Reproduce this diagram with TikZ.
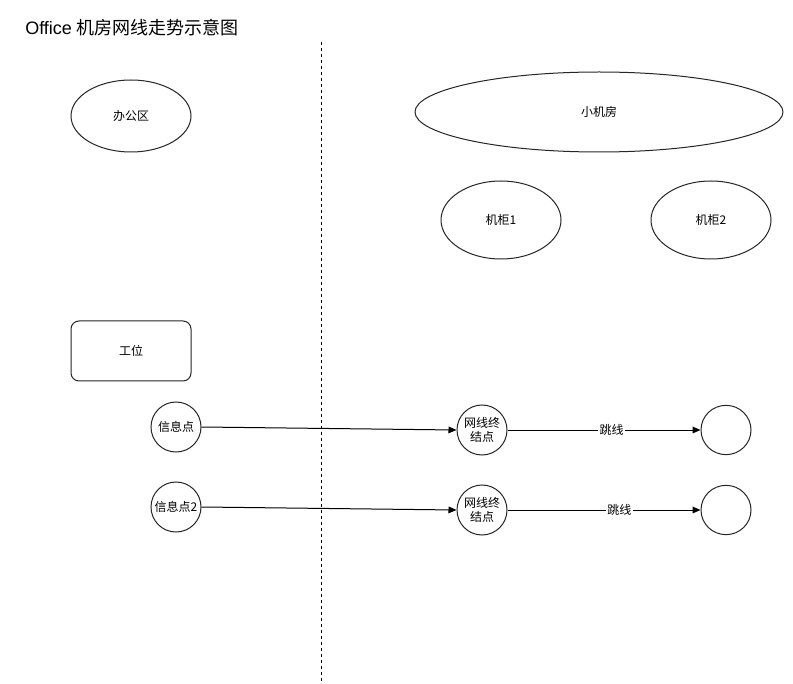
\documentclass[tikz,border=0pt]{standalone}
\usepackage{fontspec}
\setmainfont{Liberation Sans}
\newfontfamily\cjk{Noto Sans CJK SC}
\usetikzlibrary{arrows.meta,shapes.geometric}
\begin{document}
\begin{tikzpicture}[x=0.75pt,y=-0.75pt,
  shp/.style={draw=black!85,line width=0.75pt,font=\cjk\fontsize{9}{10}\selectfont,inner sep=0pt,align=center},
  circ/.style={shp,circle,minimum size=37.5pt},
  conn/.style={draw,line width=0.75pt,-{Triangle[length=6pt,width=5pt]}},
  lbl/.style={fill=white,font=\cjk\fontsize{9}{10}\selectfont,inner sep=1pt}]
\useasboundingbox[fill=white] (0,0) rectangle (793,684);
\node[anchor=west,inner sep=0pt,font=\fontsize{13.5}{15}\selectfont] (title) at (25,28) {Office {\cjk 机房网线走势示意图}};
\coordinate (dtop) at (321,42);
\coordinate (dbot) at (321,684);
\draw[line width=0.6pt,dash pattern=on 2.25pt off 2.25pt] (dtop) -- (dbot);
\node[shp,ellipse,minimum width=90pt,minimum height=54pt] (office) at (131,116) {办公区};
\node[shp,ellipse,minimum width=276pt,minimum height=60pt] (room) at (599,112) {小机房};
\node[shp,ellipse,minimum width=90pt,minimum height=58.5pt] (cab1) at (501,220) {机柜1};
\node[shp,ellipse,minimum width=90pt,minimum height=58.5pt] (cab2) at (711,220) {机柜2};
\node[shp,rectangle,rounded corners=6pt,minimum width=90pt,minimum height=45pt] (desk) at (131,351) {工位};
\node[circ] (p1) at (176,427) {信息点};
\node[circ] (p2) at (176,507) {信息点2};
\node[circ] (t1) at (482,430) {网线终\\结点};
\node[circ] (t2) at (482,510) {网线终\\结点};
\node[shp,ellipse,minimum width=37.5pt,minimum height=37pt] (e1) at (726,430) {};
\node[shp,ellipse,minimum width=37.5pt,minimum height=37pt] (e2) at (726,510) {};
\draw[conn] (p1.east) -- (t1.west);
\draw[conn] (p2.east) -- (t2.west);
\draw[conn] (t1.east) -- node[lbl,pos=0.54] {跳线} (e1.west);
\draw[conn] (t2.east) -- node[lbl,pos=0.58] {跳线} (e2.west);
\end{tikzpicture}
\end{document}
